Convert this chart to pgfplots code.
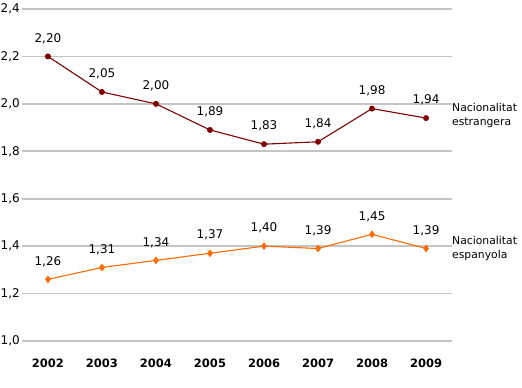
\documentclass[border=0pt]{standalone}
\usepackage{pgfplots}
\pgfplotsset{compat=1.18}
\usepackage{fontspec}
\setmainfont{DejaVu Sans}
\definecolor{darkred}{HTML}{800000}
\definecolor{orangeline}{HTML}{FF6A00}
\definecolor{gridgray}{HTML}{C4C4C4}
\begin{document}
\begin{tikzpicture}
\begin{axis}[
  name=main,
  scale only axis,
  width=430pt, height=332pt,
  xmin=-0.48, xmax=7.48,
  ymin=1.0, ymax=2.4,
  axis line style={draw=none},
  ytick={1.0,1.2,...,2.4},
  xtick={0,...,7},
  xticklabels={2002,2003,2004,2005,2006,2007,2008,2009},
  ymajorgrids=true,
  grid style={gridgray, line width=1.8pt},
  major tick length=0pt,
  /pgf/number format/.cd, fixed, fixed zerofill, precision=1, use comma, assume math mode=true,
  /pgfplots/.cd,
  yticklabel style={font=\fontsize{12}{14}\selectfont, inner sep=1pt, xshift=-1pt},
  xticklabel style={font=\fontsize{11.5}{14}\selectfont\bfseries, yshift=-14pt},
  every node near coord/.append style={font=\fontsize{12}{14}\selectfont, black, yshift=9pt,
    /pgf/number format/.cd, fixed, fixed zerofill, precision=2, use comma, assume math mode=true},
  clip=false,
]
\addplot[darkred, line width=1.1pt, mark=*, mark size=2.4pt, nodes near coords, point meta=explicit]
  coordinates {(0,2.20)[2.20] (1,2.05)[2.05] (2,2.00)[2.00] (3,1.89)[1.89] (4,1.83)[1.83] (5,1.84)[1.84] (6,1.98)[1.98] (7,1.94)[1.94]};
\addplot[orangeline, line width=1.1pt, mark=diamond*, mark size=3pt, nodes near coords, point meta=explicit]
  coordinates {(0,1.26)[1.26] (1,1.31)[1.31] (2,1.34)[1.34] (3,1.37)[1.37] (4,1.40)[1.40] (5,1.39)[1.39] (6,1.45)[1.45] (7,1.39)[1.39]};
\node[anchor=west, align=left, font=\fontsize{10.8}{14}\selectfont, inner sep=0pt] at (axis cs:7.48,1.95) {Nacionalitat\\estrangera};
\node[anchor=west, align=left, font=\fontsize{10.8}{14}\selectfont, inner sep=0pt] at (axis cs:7.48,1.39) {Nacionalitat\\espanyola};
\end{axis}
\pgfresetboundingbox
\path (main.south west) ++(-22pt,-47pt) rectangle ++(522pt,388pt);
\end{tikzpicture}
\end{document}
